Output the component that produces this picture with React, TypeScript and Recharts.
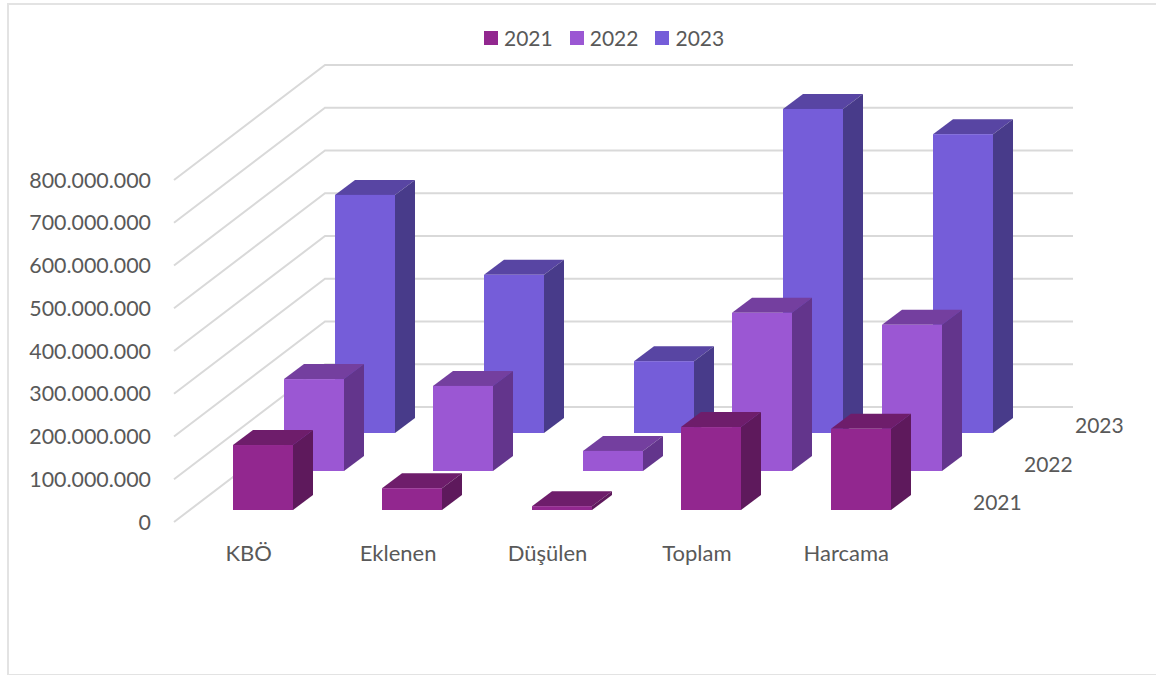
import { Bar, BarChart, CartesianGrid, Legend, XAxis, YAxis } from "recharts"

const categories = ["KBÖ", "Eklenen", "Düşülen", "Toplam", "Harcama"]
const years = ["2021", "2022", "2023"]
const values2021 = [152000000, 51000000, 9000000, 194000000, 190000000]
const values2022 = [215000000, 199000000, 47000000, 370000000, 342000000]
const values2023 = [557000000, 370000000, 168000000, 758000000, 699000000]
const yTicks = [0, 100000000, 200000000, 300000000, 400000000, 500000000, 600000000, 700000000, 800000000]

const data = categories.map((name, i) => ({
  name,
  "2021": values2021[i],
  "2022": values2022[i],
  "2023": values2023[i],
}))

const font = "Lato, sans-serif"
const textColor = "#595959"

// front, top, side
const colors: Record<string, string[]> = {
  "2021": ["#92278f", "#6e1d6b", "#5e195c"],
  "2022": ["#9b57d3", "#743f9f", "#63358c"],
  "2023": ["#755dd9", "#5845a3", "#483b8a"],
}

// how far each series sits back from the front plane
const depthShift: Record<string, number[]> = {
  "2021": [13.9, -12],
  "2022": [65, -51],
  "2023": [116, -89],
}

const formatTick = (value: number) => value.toLocaleString("de-DE")

function Box3D(props: any) {
  const { x, y, width, height, year } = props
  const [front, top, side] = colors[year]
  const left = Math.round(x + depthShift[year][0])
  const upper = y + depthShift[year][1]
  const right = left + width
  const lower = upper + height
  const dx = 20
  const dy = 15
  return (
    <g>
      <path d={`M${left},${upper} L${left + dx},${upper - dy} L${right + dx},${upper - dy} L${right},${upper} Z`} fill={top} />
      <path d={`M${right},${upper} L${right + dx},${upper - dy} L${right + dx},${lower - dy} L${right},${lower} Z`} fill={side} />
      <rect x={left} y={upper} width={width} height={height} fill={front} />
    </g>
  )
}

function WallLine(props: any) {
  const { x1, y1, x2 } = props
  return (
    <path
      d={`M${x1},${y1} L${x1 + 151},${y1 - 115} L${x2 + 152},${y1 - 115}`}
      fill="none"
      stroke="#d9d9d9"
      strokeWidth={2}
    />
  )
}

function LegendRow() {
  return (
    <div style={{ display: "flex", gap: 17, fontFamily: font, fontSize: 21, color: textColor, lineHeight: "24px" }}>
      {years.map((year) => (
        <div key={year} style={{ display: "flex", alignItems: "center", gap: 6 }}>
          <span style={{ width: 14, height: 14, background: colors[year][0], display: "inline-block" }} />
          {year}
        </div>
      ))}
    </div>
  )
}

export default function App() {
  return (
    <div
      style={{
        position: "absolute",
        left: 0,
        top: 0,
        width: 1156,
        height: 675,
        overflow: "hidden",
        background: "#fff",
      }}
    >
      <div
        style={{
          position: "absolute",
          left: 7,
          top: 3,
          width: 1160,
          height: 669,
          border: "2px solid #e3e3e3",
        }}
      />
      <BarChart
        width={1156}
        height={675}
        data={data}
        margin={{ top: 156, right: 235, bottom: 123, left: 0 }}
        barSize={60}
        barGap={-60}
        style={{ position: "absolute", left: 0, top: 0 }}
      >
        <CartesianGrid vertical={false} horizontal={(p: any) => <WallLine key={p.key ?? p.y1} {...p} />} />
        <XAxis
          dataKey="name"
          axisLine={false}
          tickLine={false}
          tickMargin={17}
          tick={{ fill: textColor, fontSize: 22, fontFamily: font }}
        />
        <YAxis
          width={174}
          domain={[0, 800000000]}
          ticks={yTicks}
          interval={0}
          axisLine={false}
          tickLine={false}
          tickMargin={17}
          tickFormatter={formatTick}
          tick={{ fill: textColor, fontSize: 21.4, fontFamily: font }}
        />
        <Legend
          verticalAlign="top"
          content={() => <LegendRow />}
          wrapperStyle={{ position: "absolute", left: 484, top: 26, width: 300 }}
        />
        <Bar dataKey="2023" isAnimationActive={false} shape={(p: any) => <Box3D {...p} year="2023" />} />
        <Bar dataKey="2022" isAnimationActive={false} shape={(p: any) => <Box3D {...p} year="2022" />} />
        <Bar dataKey="2021" isAnimationActive={false} shape={(p: any) => <Box3D {...p} year="2021" />} />
        <text x={1075} y={433} fill={textColor} fontSize={21} fontFamily={font}>{years[2]}</text>
        <text x={1024} y={472} fill={textColor} fontSize={21} fontFamily={font}>{years[1]}</text>
        <text x={973} y={510} fill={textColor} fontSize={21} fontFamily={font}>{years[0]}</text>
      </BarChart>
    </div>
  )
}
